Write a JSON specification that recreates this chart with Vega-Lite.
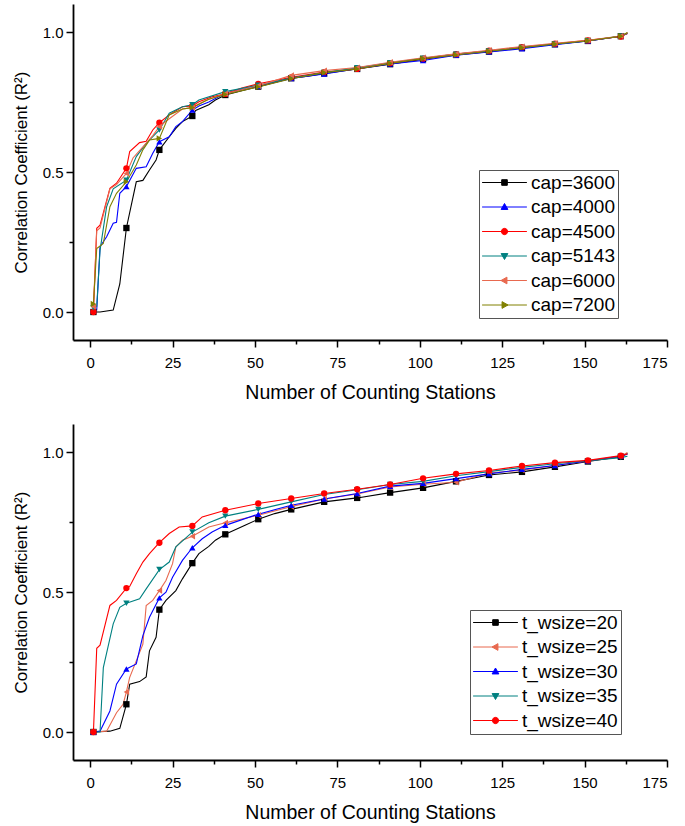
{
 "$schema": "https://vega.github.io/schema/vega-lite/v6.json",
 "padding": {"left": 12, "top": 4, "right": 5, "bottom": 5},
 "spacing": 22,
 "resolve": {"scale": {"color": "independent", "fill": "independent", "stroke": "independent", "shape": "independent"}},
 "config": {
  "view": {"stroke": null},
  "font": "Liberation Sans",
  "axis": {"domainColor": "black", "domainWidth": 1.8, "tickColor": "black", "tickWidth": 1.5, "labelFont": "Liberation Sans", "labelFontSize": 15, "labelColor": "black", "titleFont": "Liberation Sans", "titleFontSize": 17, "titleFontWeight": "normal", "titleColor": "black", "grid": false},
  "axisX": {"labelPadding": 8, "titlePadding": 13, "titleFontSize": 19.5},
  "axisY": {"labelPadding": 3, "titlePadding": 12},
  "legend": {"labelFont": "Liberation Sans", "labelFontSize": 19, "labelColor": "black"}
 },
 "datasets": {
  "a": [
   {"s":"cap=3600","x":1,"y":0},{"s":"cap=3600","x":3,"y":0},{"s":"cap=3600","x":7,"y":0.007},{"s":"cap=3600","x":9,"y":0.10},{"s":"cap=3600","x":11,"y":0.30},{"s":"cap=3600","x":14,"y":0.465},{"s":"cap=3600","x":16,"y":0.47},{"s":"cap=3600","x":18,"y":0.507},{"s":"cap=3600","x":20,"y":0.543},{"s":"cap=3600","x":21,"y":0.579},{"s":"cap=3600","x":24,"y":0.626},{"s":"cap=3600","x":26,"y":0.656},{"s":"cap=3600","x":28,"y":0.68},{"s":"cap=3600","x":31,"y":0.70},{"s":"cap=3600","x":32,"y":0.72},{"s":"cap=3600","x":36,"y":0.74},{"s":"cap=3600","x":38,"y":0.757},{"s":"cap=3600","x":41,"y":0.775},{"s":"cap=3600","x":46,"y":0.79},{"s":"cap=3600","x":51,"y":0.805},{"s":"cap=3600","x":56,"y":0.82},{"s":"cap=3600","x":61,"y":0.835},{"s":"cap=3600","x":66,"y":0.842},{"s":"cap=3600","x":71,"y":0.852},{"s":"cap=3600","x":81,"y":0.868},{"s":"cap=3600","x":91,"y":0.885},{"s":"cap=3600","x":101,"y":0.903},{"s":"cap=3600","x":111,"y":0.918},{"s":"cap=3600","x":121,"y":0.930},{"s":"cap=3600","x":131,"y":0.943},{"s":"cap=3600","x":141,"y":0.956},{"s":"cap=3600","x":151,"y":0.968},{"s":"cap=3600","x":161,"y":0.985},{"s":"cap=3600","x":162,"y":0.99},
   {"s":"cap=4000","x":1,"y":0.007},{"s":"cap=4000","x":2,"y":0.007},{"s":"cap=4000","x":3,"y":0.233},{"s":"cap=4000","x":5,"y":0.269},{"s":"cap=4000","x":7,"y":0.317},{"s":"cap=4000","x":8,"y":0.32},{"s":"cap=4000","x":9,"y":0.424},{"s":"cap=4000","x":11,"y":0.448},{"s":"cap=4000","x":14,"y":0.513},{"s":"cap=4000","x":17,"y":0.519},{"s":"cap=4000","x":19,"y":0.567},{"s":"cap=4000","x":21,"y":0.608},{"s":"cap=4000","x":24,"y":0.626},{"s":"cap=4000","x":26,"y":0.662},{"s":"cap=4000","x":28,"y":0.68},{"s":"cap=4000","x":31,"y":0.721},{"s":"cap=4000","x":33,"y":0.736},{"s":"cap=4000","x":36,"y":0.75},{"s":"cap=4000","x":41,"y":0.781},{"s":"cap=4000","x":46,"y":0.795},{"s":"cap=4000","x":51,"y":0.806},{"s":"cap=4000","x":61,"y":0.834},{"s":"cap=4000","x":71,"y":0.850},{"s":"cap=4000","x":81,"y":0.869},{"s":"cap=4000","x":91,"y":0.886},{"s":"cap=4000","x":101,"y":0.898},{"s":"cap=4000","x":111,"y":0.917},{"s":"cap=4000","x":121,"y":0.929},{"s":"cap=4000","x":131,"y":0.940},{"s":"cap=4000","x":141,"y":0.955},{"s":"cap=4000","x":151,"y":0.968},{"s":"cap=4000","x":161,"y":0.985},{"s":"cap=4000","x":163,"y":0.995},
   {"s":"cap=4500","x":1,"y":0},{"s":"cap=4500","x":2,"y":0.299},{"s":"cap=4500","x":3,"y":0.31},{"s":"cap=4500","x":6,"y":0.442},{"s":"cap=4500","x":8,"y":0.46},{"s":"cap=4500","x":11,"y":0.513},{"s":"cap=4500","x":12,"y":0.573},{"s":"cap=4500","x":15,"y":0.605},{"s":"cap=4500","x":17,"y":0.61},{"s":"cap=4500","x":19,"y":0.65},{"s":"cap=4500","x":21,"y":0.676},{"s":"cap=4500","x":24,"y":0.704},{"s":"cap=4500","x":28,"y":0.733},{"s":"cap=4500","x":31,"y":0.736},{"s":"cap=4500","x":33,"y":0.751},{"s":"cap=4500","x":37,"y":0.769},{"s":"cap=4500","x":41,"y":0.779},{"s":"cap=4500","x":46,"y":0.80},{"s":"cap=4500","x":51,"y":0.815},{"s":"cap=4500","x":61,"y":0.838},{"s":"cap=4500","x":71,"y":0.857},{"s":"cap=4500","x":81,"y":0.868},{"s":"cap=4500","x":91,"y":0.889},{"s":"cap=4500","x":101,"y":0.905},{"s":"cap=4500","x":111,"y":0.921},{"s":"cap=4500","x":121,"y":0.933},{"s":"cap=4500","x":131,"y":0.946},{"s":"cap=4500","x":141,"y":0.958},{"s":"cap=4500","x":151,"y":0.970},{"s":"cap=4500","x":161,"y":0.984},{"s":"cap=4500","x":163,"y":0.995},
   {"s":"cap=5143","x":1,"y":0.015},{"s":"cap=5143","x":2,"y":0.02},{"s":"cap=5143","x":3,"y":0.22},{"s":"cap=5143","x":5,"y":0.376},{"s":"cap=5143","x":7,"y":0.44},{"s":"cap=5143","x":11,"y":0.471},{"s":"cap=5143","x":14,"y":0.555},{"s":"cap=5143","x":17,"y":0.602},{"s":"cap=5143","x":21,"y":0.65},{"s":"cap=5143","x":24,"y":0.71},{"s":"cap=5143","x":28,"y":0.733},{"s":"cap=5143","x":31,"y":0.74},{"s":"cap=5143","x":33,"y":0.757},{"s":"cap=5143","x":41,"y":0.787},{"s":"cap=5143","x":51,"y":0.810},{"s":"cap=5143","x":61,"y":0.836},{"s":"cap=5143","x":71,"y":0.855},{"s":"cap=5143","x":81,"y":0.872},{"s":"cap=5143","x":91,"y":0.890},{"s":"cap=5143","x":101,"y":0.906},{"s":"cap=5143","x":111,"y":0.921},{"s":"cap=5143","x":121,"y":0.932},{"s":"cap=5143","x":131,"y":0.945},{"s":"cap=5143","x":141,"y":0.957},{"s":"cap=5143","x":151,"y":0.969},{"s":"cap=5143","x":161,"y":0.986},{"s":"cap=5143","x":163,"y":0.996},
   {"s":"cap=6000","x":1,"y":0.019},{"s":"cap=6000","x":2,"y":0.29},{"s":"cap=6000","x":3,"y":0.30},{"s":"cap=6000","x":6,"y":0.44},{"s":"cap=6000","x":8,"y":0.455},{"s":"cap=6000","x":11,"y":0.495},{"s":"cap=6000","x":13,"y":0.55},{"s":"cap=6000","x":16,"y":0.59},{"s":"cap=6000","x":19,"y":0.63},{"s":"cap=6000","x":21,"y":0.662},{"s":"cap=6000","x":24,"y":0.69},{"s":"cap=6000","x":28,"y":0.725},{"s":"cap=6000","x":31,"y":0.73},{"s":"cap=6000","x":35,"y":0.755},{"s":"cap=6000","x":41,"y":0.78},{"s":"cap=6000","x":51,"y":0.808},{"s":"cap=6000","x":61,"y":0.845},{"s":"cap=6000","x":71,"y":0.862},{"s":"cap=6000","x":81,"y":0.873},{"s":"cap=6000","x":91,"y":0.892},{"s":"cap=6000","x":101,"y":0.908},{"s":"cap=6000","x":111,"y":0.922},{"s":"cap=6000","x":121,"y":0.935},{"s":"cap=6000","x":131,"y":0.948},{"s":"cap=6000","x":141,"y":0.960},{"s":"cap=6000","x":151,"y":0.970},{"s":"cap=6000","x":161,"y":0.986},{"s":"cap=6000","x":163,"y":0.997},
   {"s":"cap=7200","x":1,"y":0.029},{"s":"cap=7200","x":2,"y":0.227},{"s":"cap=7200","x":4,"y":0.245},{"s":"cap=7200","x":6,"y":0.376},{"s":"cap=7200","x":8,"y":0.424},{"s":"cap=7200","x":11,"y":0.465},{"s":"cap=7200","x":14,"y":0.525},{"s":"cap=7200","x":16,"y":0.579},{"s":"cap=7200","x":18,"y":0.614},{"s":"cap=7200","x":21,"y":0.62},{"s":"cap=7200","x":24,"y":0.704},{"s":"cap=7200","x":28,"y":0.725},{"s":"cap=7200","x":31,"y":0.73},{"s":"cap=7200","x":36,"y":0.76},{"s":"cap=7200","x":41,"y":0.777},{"s":"cap=7200","x":51,"y":0.804},{"s":"cap=7200","x":61,"y":0.833},{"s":"cap=7200","x":71,"y":0.855},{"s":"cap=7200","x":81,"y":0.868},{"s":"cap=7200","x":91,"y":0.888},{"s":"cap=7200","x":101,"y":0.905},{"s":"cap=7200","x":111,"y":0.918},{"s":"cap=7200","x":121,"y":0.931},{"s":"cap=7200","x":131,"y":0.944},{"s":"cap=7200","x":141,"y":0.957},{"s":"cap=7200","x":151,"y":0.969},{"s":"cap=7200","x":161,"y":0.985},{"s":"cap=7200","x":163,"y":0.998}
  ],
  "b": [
   {"s":"t_wsize=20","x":1,"y":0},{"s":"t_wsize=20","x":6,"y":0.003},{"s":"t_wsize=20","x":9,"y":0.013},{"s":"t_wsize=20","x":11,"y":0.099},{"s":"t_wsize=20","x":12,"y":0.171},{"s":"t_wsize=20","x":15,"y":0.18},{"s":"t_wsize=20","x":17,"y":0.197},{"s":"t_wsize=20","x":18,"y":0.29},{"s":"t_wsize=20","x":20,"y":0.338},{"s":"t_wsize=20","x":21,"y":0.437},{"s":"t_wsize=20","x":23,"y":0.47},{"s":"t_wsize=20","x":26,"y":0.505},{"s":"t_wsize=20","x":28,"y":0.547},{"s":"t_wsize=20","x":31,"y":0.603},{"s":"t_wsize=20","x":33,"y":0.637},{"s":"t_wsize=20","x":36,"y":0.663},{"s":"t_wsize=20","x":38,"y":0.685},{"s":"t_wsize=20","x":41,"y":0.706},{"s":"t_wsize=20","x":47,"y":0.738},{"s":"t_wsize=20","x":51,"y":0.76},{"s":"t_wsize=20","x":56,"y":0.78},{"s":"t_wsize=20","x":61,"y":0.795},{"s":"t_wsize=20","x":71,"y":0.822},{"s":"t_wsize=20","x":81,"y":0.836},{"s":"t_wsize=20","x":91,"y":0.855},{"s":"t_wsize=20","x":101,"y":0.872},{"s":"t_wsize=20","x":111,"y":0.895},{"s":"t_wsize=20","x":121,"y":0.918},{"s":"t_wsize=20","x":131,"y":0.929},{"s":"t_wsize=20","x":141,"y":0.947},{"s":"t_wsize=20","x":151,"y":0.966},{"s":"t_wsize=20","x":161,"y":0.983},{"s":"t_wsize=20","x":163,"y":0.995},
   {"s":"t_wsize=25","x":1,"y":0},{"s":"t_wsize=25","x":5,"y":0.003},{"s":"t_wsize=25","x":8,"y":0.069},{"s":"t_wsize=25","x":10,"y":0.099},{"s":"t_wsize=25","x":11,"y":0.143},{"s":"t_wsize=25","x":12,"y":0.195},{"s":"t_wsize=25","x":14,"y":0.254},{"s":"t_wsize=25","x":16,"y":0.314},{"s":"t_wsize=25","x":17,"y":0.452},{"s":"t_wsize=25","x":19,"y":0.47},{"s":"t_wsize=25","x":21,"y":0.505},{"s":"t_wsize=25","x":23,"y":0.541},{"s":"t_wsize=25","x":25,"y":0.601},{"s":"t_wsize=25","x":26,"y":0.661},{"s":"t_wsize=25","x":28,"y":0.685},{"s":"t_wsize=25","x":31,"y":0.699},{"s":"t_wsize=25","x":36,"y":0.732},{"s":"t_wsize=25","x":41,"y":0.747},{"s":"t_wsize=25","x":51,"y":0.774},{"s":"t_wsize=25","x":61,"y":0.805},{"s":"t_wsize=25","x":71,"y":0.832},{"s":"t_wsize=25","x":81,"y":0.850},{"s":"t_wsize=25","x":91,"y":0.875},{"s":"t_wsize=25","x":101,"y":0.885},{"s":"t_wsize=25","x":111,"y":0.892},{"s":"t_wsize=25","x":121,"y":0.925},{"s":"t_wsize=25","x":131,"y":0.935},{"s":"t_wsize=25","x":141,"y":0.952},{"s":"t_wsize=25","x":151,"y":0.968},{"s":"t_wsize=25","x":161,"y":0.985},{"s":"t_wsize=25","x":163,"y":0.998},
   {"s":"t_wsize=30","x":1,"y":0},{"s":"t_wsize=30","x":3,"y":0.003},{"s":"t_wsize=30","x":6,"y":0.075},{"s":"t_wsize=30","x":8,"y":0.171},{"s":"t_wsize=30","x":11,"y":0.225},{"s":"t_wsize=30","x":14,"y":0.243},{"s":"t_wsize=30","x":16,"y":0.344},{"s":"t_wsize=30","x":18,"y":0.41},{"s":"t_wsize=30","x":21,"y":0.479},{"s":"t_wsize=30","x":23,"y":0.499},{"s":"t_wsize=30","x":25,"y":0.553},{"s":"t_wsize=30","x":28,"y":0.613},{"s":"t_wsize=30","x":31,"y":0.658},{"s":"t_wsize=30","x":34,"y":0.69},{"s":"t_wsize=30","x":37,"y":0.714},{"s":"t_wsize=30","x":41,"y":0.738},{"s":"t_wsize=30","x":51,"y":0.778},{"s":"t_wsize=30","x":61,"y":0.810},{"s":"t_wsize=30","x":71,"y":0.832},{"s":"t_wsize=30","x":81,"y":0.852},{"s":"t_wsize=30","x":91,"y":0.878},{"s":"t_wsize=30","x":101,"y":0.888},{"s":"t_wsize=30","x":111,"y":0.905},{"s":"t_wsize=30","x":121,"y":0.922},{"s":"t_wsize=30","x":131,"y":0.938},{"s":"t_wsize=30","x":141,"y":0.952},{"s":"t_wsize=30","x":151,"y":0.968},{"s":"t_wsize=30","x":161,"y":0.986},{"s":"t_wsize=30","x":163,"y":0.992},
   {"s":"t_wsize=35","x":1,"y":0},{"s":"t_wsize=35","x":3,"y":0},{"s":"t_wsize=35","x":4,"y":0.23},{"s":"t_wsize=35","x":7,"y":0.386},{"s":"t_wsize=35","x":9,"y":0.445},{"s":"t_wsize=35","x":11,"y":0.46},{"s":"t_wsize=35","x":15,"y":0.476},{"s":"t_wsize=35","x":17,"y":0.511},{"s":"t_wsize=35","x":21,"y":0.58},{"s":"t_wsize=35","x":24,"y":0.607},{"s":"t_wsize=35","x":26,"y":0.661},{"s":"t_wsize=35","x":31,"y":0.714},{"s":"t_wsize=35","x":36,"y":0.747},{"s":"t_wsize=35","x":41,"y":0.771},{"s":"t_wsize=35","x":51,"y":0.795},{"s":"t_wsize=35","x":61,"y":0.822},{"s":"t_wsize=35","x":71,"y":0.848},{"s":"t_wsize=35","x":81,"y":0.865},{"s":"t_wsize=35","x":91,"y":0.884},{"s":"t_wsize=35","x":101,"y":0.895},{"s":"t_wsize=35","x":111,"y":0.915},{"s":"t_wsize=35","x":121,"y":0.930},{"s":"t_wsize=35","x":131,"y":0.945},{"s":"t_wsize=35","x":141,"y":0.958},{"s":"t_wsize=35","x":151,"y":0.969},{"s":"t_wsize=35","x":161,"y":0.980},{"s":"t_wsize=35","x":163,"y":0.985},
   {"s":"t_wsize=40","x":1,"y":0},{"s":"t_wsize=40","x":2,"y":0.299},{"s":"t_wsize=40","x":3,"y":0.31},{"s":"t_wsize=40","x":6,"y":0.452},{"s":"t_wsize=40","x":8,"y":0.47},{"s":"t_wsize=40","x":11,"y":0.514},{"s":"t_wsize=40","x":12,"y":0.52},{"s":"t_wsize=40","x":14,"y":0.565},{"s":"t_wsize=40","x":16,"y":0.607},{"s":"t_wsize=40","x":18,"y":0.637},{"s":"t_wsize=40","x":21,"y":0.676},{"s":"t_wsize=40","x":24,"y":0.709},{"s":"t_wsize=40","x":27,"y":0.732},{"s":"t_wsize=40","x":31,"y":0.736},{"s":"t_wsize=40","x":34,"y":0.768},{"s":"t_wsize=40","x":41,"y":0.792},{"s":"t_wsize=40","x":51,"y":0.816},{"s":"t_wsize=40","x":61,"y":0.834},{"s":"t_wsize=40","x":71,"y":0.852},{"s":"t_wsize=40","x":81,"y":0.867},{"s":"t_wsize=40","x":91,"y":0.884},{"s":"t_wsize=40","x":101,"y":0.906},{"s":"t_wsize=40","x":111,"y":0.922},{"s":"t_wsize=40","x":121,"y":0.934},{"s":"t_wsize=40","x":131,"y":0.950},{"s":"t_wsize=40","x":141,"y":0.962},{"s":"t_wsize=40","x":151,"y":0.970},{"s":"t_wsize=40","x":161,"y":0.987},{"s":"t_wsize=40","x":163,"y":0.993}
  ]
 },
 "vconcat": [
  {
   "width": 594, "height": 336,
   "data": {"name": "a"},
   "resolve": {"scale": {"shape": "independent", "fill": "independent", "stroke": "independent"}},
   "encoding": {
    "x": {"field": "x", "type": "quantitative", "scale": {"domain": [-5.2, 175], "nice": false, "zero": false},
     "axis": {"title": "Number of Counting Stations", "values": [0,12.5,25,37.5,50,62.5,75,87.5,100,112.5,125,137.5,150,162.5,175], "labelExpr": "datum.value % 25 == 0 ? format(datum.value, 'd') : ''", "tickSize": {"condition": {"test": "datum.value % 25 != 0", "value": 4}, "value": 7}}},
    "y": {"field": "y", "type": "quantitative", "scale": {"domain": [-0.1, 1.1], "nice": false, "zero": false},
     "axis": {"title": "Correlation Coefficient (R²)", "values": [0,0.25,0.5,0.75,1], "labelExpr": "(datum.value == 0 || datum.value == 0.5 || datum.value == 1) ? format(datum.value, '.1f') : ''", "tickSize": {"condition": {"test": "datum.value == 0.25 || datum.value == 0.75", "value": 4}, "value": 7}}}
   },
   "layer": [
    {"mark": {"type": "line", "strokeWidth": 1.1},
     "encoding": {"color": {"field": "s", "type": "nominal", "scale": {"domain": ["cap=3600","cap=4000","cap=4500","cap=5143","cap=6000","cap=7200"], "range": ["#000000","#0000ff","#ff0000","#008080","#e8694f","#808000"]}, "legend": null}}},
    {"transform": [{"filter": "(datum.x - 1) % 10 == 0"}],
     "mark": {"type": "point", "filled": true, "size": 40, "opacity": 1},
     "encoding": {
      "color": {"field": "s", "type": "nominal", "scale": {"domain": ["cap=3600","cap=4000","cap=4500","cap=5143","cap=6000","cap=7200"], "range": ["#000000","#0000ff","#ff0000","#008080","#e8694f","#808000"]}, "legend": null},
      "shape": {"field": "s", "type": "nominal", "scale": {"domain": ["cap=3600","cap=4000","cap=4500","cap=5143","cap=6000","cap=7200"], "range": ["square","triangle-up","circle","triangle-down","triangle-left","triangle-right"]}, "legend": null}}},
    {"transform": [{"filter": "datum.x == 1"}],
     "mark": {"type": "point", "filled": true, "opacity": 0, "size": 196},
     "encoding": {
      "fill": {"field": "s", "type": "nominal", "scale": {"domain": ["cap=3600","cap=4000","cap=4500","cap=5143","cap=6000","cap=7200"], "range": ["#000000","#0000ff","#ff0000","#008080","#e8694f","#808000"]},
       "legend": {"orient": "none", "legendX": 406, "legendY": 166, "direction": "vertical", "title": null, "strokeColor": "#555555", "fillColor": "white", "padding": 3, "rowPadding": 4.5, "symbolSize": 196, "symbolStrokeWidth": 1, "symbolOpacity": 1, "symbolOffset": 13, "labelOffset": 17}},
      "stroke": {"field": "s", "type": "nominal", "scale": {"domain": ["cap=3600","cap=4000","cap=4500","cap=5143","cap=6000","cap=7200"], "range": ["#000000","#0000ff","#ff0000","#008080","#e8694f","#808000"]},
       "legend": {"orient": "none", "legendX": 406, "legendY": 166, "direction": "vertical", "title": null, "strokeColor": "#555555", "fillColor": "white", "padding": 3, "rowPadding": 4.5, "symbolSize": 196, "symbolStrokeWidth": 1, "symbolOpacity": 1, "symbolOffset": 13, "labelOffset": 17}},
      "shape": {"field": "s", "type": "nominal", "scale": {"domain": ["cap=3600","cap=4000","cap=4500","cap=5143","cap=6000","cap=7200"], "range": [
        "M-3.2,0H3.2M-0.4,-0.4H0.4V0.4H-0.4Z",
        "M-3.2,0H3.2M0,-0.5L0.48,0.35H-0.48Z",
        "M-3.2,0H3.2M0.45,0A0.45,0.45 0 1 1 -0.45,0A0.45,0.45 0 1 1 0.45,0Z",
        "M-3.2,0H3.2M0,0.5L0.48,-0.35H-0.48Z",
        "M-3.2,0H3.2M-0.5,0L0.35,-0.48V0.48Z",
        "M-3.2,0H3.2M0.5,0L-0.35,-0.48V0.48Z"]},
       "legend": {"orient": "none", "legendX": 406, "legendY": 166, "direction": "vertical", "title": null, "strokeColor": "#555555", "fillColor": "white", "padding": 3, "rowPadding": 4.5, "symbolSize": 196, "symbolStrokeWidth": 1, "symbolOpacity": 1, "symbolOffset": 13, "labelOffset": 17}}}},
    {"data": {"values": [{"t": "a."}]},
     "mark": {"type": "text", "font": "Liberation Mono", "fontWeight": "bold", "fontSize": 19, "align": "left", "baseline": "middle", "color": "black"},
     "encoding": {"x": {"datum": -1}, "y": {"datum": 1.0}, "text": {"field": "t"}}}
   ]
  },
  {
   "width": 594, "height": 336,
   "data": {"name": "b"},
   "resolve": {"scale": {"shape": "independent", "fill": "independent", "stroke": "independent"}},
   "encoding": {
    "x": {"field": "x", "type": "quantitative", "scale": {"domain": [-5.2, 175], "nice": false, "zero": false},
     "axis": {"title": "Number of Counting Stations", "values": [0,12.5,25,37.5,50,62.5,75,87.5,100,112.5,125,137.5,150,162.5,175], "labelExpr": "datum.value % 25 == 0 ? format(datum.value, 'd') : ''", "tickSize": {"condition": {"test": "datum.value % 25 != 0", "value": 4}, "value": 7}}},
    "y": {"field": "y", "type": "quantitative", "scale": {"domain": [-0.1, 1.1], "nice": false, "zero": false},
     "axis": {"title": "Correlation Coefficient (R²)", "values": [0,0.25,0.5,0.75,1], "labelExpr": "(datum.value == 0 || datum.value == 0.5 || datum.value == 1) ? format(datum.value, '.1f') : ''", "tickSize": {"condition": {"test": "datum.value == 0.25 || datum.value == 0.75", "value": 4}, "value": 7}}}
   },
   "layer": [
    {"mark": {"type": "line", "strokeWidth": 1.1},
     "encoding": {"color": {"field": "s", "type": "nominal", "scale": {"domain": ["t_wsize=20","t_wsize=25","t_wsize=30","t_wsize=35","t_wsize=40"], "range": ["#000000","#e8694f","#0000ff","#008080","#ff0000"]}, "legend": null}}},
    {"transform": [{"filter": "(datum.x - 1) % 10 == 0"}],
     "mark": {"type": "point", "filled": true, "size": 40, "opacity": 1},
     "encoding": {
      "color": {"field": "s", "type": "nominal", "scale": {"domain": ["t_wsize=20","t_wsize=25","t_wsize=30","t_wsize=35","t_wsize=40"], "range": ["#000000","#e8694f","#0000ff","#008080","#ff0000"]}, "legend": null},
      "shape": {"field": "s", "type": "nominal", "scale": {"domain": ["t_wsize=20","t_wsize=25","t_wsize=30","t_wsize=35","t_wsize=40"], "range": ["square","triangle-left","triangle-up","triangle-down","circle"]}, "legend": null}}},
    {"transform": [{"filter": "datum.x == 1"}],
     "mark": {"type": "point", "filled": true, "opacity": 0, "size": 196},
     "encoding": {
      "fill": {"field": "s", "type": "nominal", "scale": {"domain": ["t_wsize=20","t_wsize=25","t_wsize=30","t_wsize=35","t_wsize=40"], "range": ["#000000","#e8694f","#0000ff","#008080","#ff0000"]},
       "legend": {"orient": "none", "legendX": 397, "legendY": 186, "direction": "vertical", "title": null, "strokeColor": "#555555", "fillColor": "white", "padding": 3, "rowPadding": 4.5, "symbolSize": 196, "symbolStrokeWidth": 1, "symbolOpacity": 1, "symbolOffset": 13, "labelOffset": 17}},
      "stroke": {"field": "s", "type": "nominal", "scale": {"domain": ["t_wsize=20","t_wsize=25","t_wsize=30","t_wsize=35","t_wsize=40"], "range": ["#000000","#e8694f","#0000ff","#008080","#ff0000"]},
       "legend": {"orient": "none", "legendX": 397, "legendY": 186, "direction": "vertical", "title": null, "strokeColor": "#555555", "fillColor": "white", "padding": 3, "rowPadding": 4.5, "symbolSize": 196, "symbolStrokeWidth": 1, "symbolOpacity": 1, "symbolOffset": 13, "labelOffset": 17}},
      "shape": {"field": "s", "type": "nominal", "scale": {"domain": ["t_wsize=20","t_wsize=25","t_wsize=30","t_wsize=35","t_wsize=40"], "range": [
        "M-3.2,0H3.2M-0.4,-0.4H0.4V0.4H-0.4Z",
        "M-3.2,0H3.2M-0.5,0L0.35,-0.48V0.48Z",
        "M-3.2,0H3.2M0,-0.5L0.48,0.35H-0.48Z",
        "M-3.2,0H3.2M0,0.5L0.48,-0.35H-0.48Z",
        "M-3.2,0H3.2M0.45,0A0.45,0.45 0 1 1 -0.45,0A0.45,0.45 0 1 1 0.45,0Z"]},
       "legend": {"orient": "none", "legendX": 397, "legendY": 186, "direction": "vertical", "title": null, "strokeColor": "#555555", "fillColor": "white", "padding": 3, "rowPadding": 4.5, "symbolSize": 196, "symbolStrokeWidth": 1, "symbolOpacity": 1, "symbolOffset": 13, "labelOffset": 17}}}},
    {"data": {"values": [{"t": "b."}]},
     "mark": {"type": "text", "font": "Liberation Mono", "fontWeight": "bold", "fontSize": 19, "align": "left", "baseline": "middle", "color": "black"},
     "encoding": {"x": {"datum": -1}, "y": {"datum": 1.0}, "text": {"field": "t"}}}
   ]
  }
 ]
}
